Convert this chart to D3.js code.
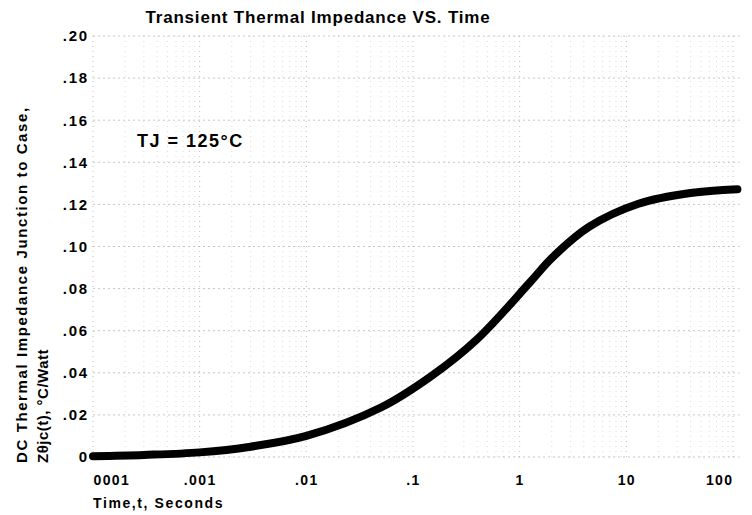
<!DOCTYPE html>
<html>
<head>
<meta charset="utf-8">
<script src="https://cdn.jsdelivr.net/npm/d3@7"></script>
<style>
  body { margin: 0; background: #fff; }
  svg { font-family: "Liberation Sans", Arial, sans-serif; }
</style>
</head>
<body>
<div id="chart"></div>
<script>
// time in seconds and Z(theta)jc in degC/W
const TIME = [0.0001, 0.0003, 0.001, 0.003, 0.01, 0.05, 0.15, 0.4, 1.25, 2, 4.5, 13, 40, 110];
const ZTHJC = [0.0004, 0.001, 0.0022, 0.0049, 0.0100, 0.0235, 0.0386, 0.056, 0.083, 0.0945, 0.1094, 0.1203, 0.1254, 0.1272];
const X_TICKS = [0.0001, 0.001, 0.01, 0.1, 1, 10, 100];
const X_TICK_LABELS = ["0001", ".001", ".01", ".1", "1", "10", "100"];
const Y_TICKS = [0, 0.02, 0.04, 0.06, 0.08, 0.10, 0.12, 0.14, 0.16, 0.18, 0.20];
const Y_TICK_LABELS = ["0", ".02", ".04", ".06", ".08", ".10", ".12", ".14", ".16", ".18", ".20"];

const WIDTH = 752;
const HEIGHT = 515;
const LEFT = 93, RIGHT = 733, TOP = 36, BOTTOM = 457;

const svg = d3.select("#chart")
   .append("svg")
   .attr("width", WIDTH)
   .attr("height", HEIGHT);

const x = d3.scaleLog().domain([0.0001, 100]).range([LEFT, RIGHT]);
const y = d3.scaleLinear().domain([0, 0.2]).range([BOTTOM, TOP]);

// grid: minor log lines plus decades
const minor = [];
for (let e = -4; e <= 2; e++) {
   for (let m = 1; m <= 9; m++) {
      const v = m * Math.pow(10, e);
      if (v <= 115) minor.push(v);
   }
}
const grid = svg.append("g").attr("class", "grid");
grid.selectAll("line.v")
   .data(minor)
   .join("line")
   .attr("class", "v")
   .attr("x1", d => x(d))
   .attr("x2", d => x(d))
   .attr("y1", y(0.2))
   .attr("y2", y(0))
   .attr("stroke", "#aaa")
   .attr("stroke-width", 1)
   .attr("stroke-dasharray", "1,4")
   .attr("opacity", d => X_TICKS.includes(d) ? 0.75 : 0.4);
grid.selectAll("line.h")
   .data(Y_TICKS)
   .join("line")
   .attr("class", "h")
   .attr("x1", x(0.0001))
   .attr("x2", x(115))
   .attr("y1", d => y(d))
   .attr("y2", d => y(d))
   .attr("stroke", "#aaa")
   .attr("stroke-width", 1)
   .attr("stroke-dasharray", "2,3")
   .attr("opacity", 0.65);

// y tick labels
const yAxis = d3.axisLeft(y)
   .tickValues(Y_TICKS)
   .tickSize(0)
   .tickPadding(3)
   .tickFormat((d, i) => Y_TICK_LABELS[i]);
const yg = svg.append("g")
   .attr("transform", `translate(${LEFT - 1},0)`)
   .call(yAxis);
yg.select(".domain").remove();
yg.selectAll("text")
   .attr("font-size", "15px")
   .attr("font-weight", "bold")
   .attr("letter-spacing", "1.8px")
   .attr("font-family", "Liberation Sans, Arial, sans-serif")
   .attr("fill", "#000");

// x tick labels
const xAxis = d3.axisBottom(x)
   .tickValues(X_TICKS)
   .tickSize(0)
   .tickPadding(18)
   .tickFormat((d, i) => X_TICK_LABELS[i]);
const xg = svg.append("g")
   .attr("transform", `translate(0,${BOTTOM})`)
   .call(xAxis);
xg.select(".domain").remove();
xg.selectAll("text")
   .attr("font-size", "14px")
   .attr("font-weight", "bold")
   .attr("letter-spacing", "1.4px")
   .attr("font-family", "Liberation Sans, Arial, sans-serif")
   .attr("fill", "#000")
   .attr("text-anchor", (d, i) => i === 0 ? "start" : (i === X_TICKS.length - 1 ? "end" : "middle"));

// curve
const line = d3.line()
   .x((d, i) => x(TIME[i]))
   .y(d => y(d))
   .curve(d3.curveCatmullRom.alpha(0.5));
svg.append("path")
   .datum(ZTHJC)
   .attr("d", line)
   .attr("fill", "none")
   .attr("stroke", "#000")
   .attr("stroke-width", 8)
   .attr("stroke-linecap", "round");

// title and annotations
svg.append("text")
   .attr("x", 318)
   .attr("y", 23)
   .attr("text-anchor", "middle")
   .attr("font-size", "17px")
   .attr("letter-spacing", "0.8px")
   .attr("font-weight", "bold")
   .text("Transient Thermal Impedance VS. Time");

svg.append("text")
   .attr("x", 137)
   .attr("y", 147)
   .attr("font-size", "18px")
   .attr("letter-spacing", "1.5px")
   .attr("font-weight", "bold")
   .text("TJ = 125°C");

svg.append("text")
   .attr("x", 93)
   .attr("y", 508)
   .attr("font-size", "14px")
   .attr("letter-spacing", "1.6px")
   .attr("font-weight", "bold")
   .text("Time,t, Seconds");

svg.append("text")
   .attr("transform", "translate(27,463) rotate(-90)")
   .attr("font-size", "15px")
   .attr("letter-spacing", "1.6px")
   .attr("font-weight", "bold")
   .text("DC Thermal Impedance Junction to Case,");

svg.append("text")
   .attr("transform", "translate(48,463) rotate(-90)")
   .attr("font-size", "15px")
   .attr("letter-spacing", "0.5px")
   .attr("font-weight", "bold")
   .text("Zθjc(t), °C/Watt");
</script>
</body>
</html>
